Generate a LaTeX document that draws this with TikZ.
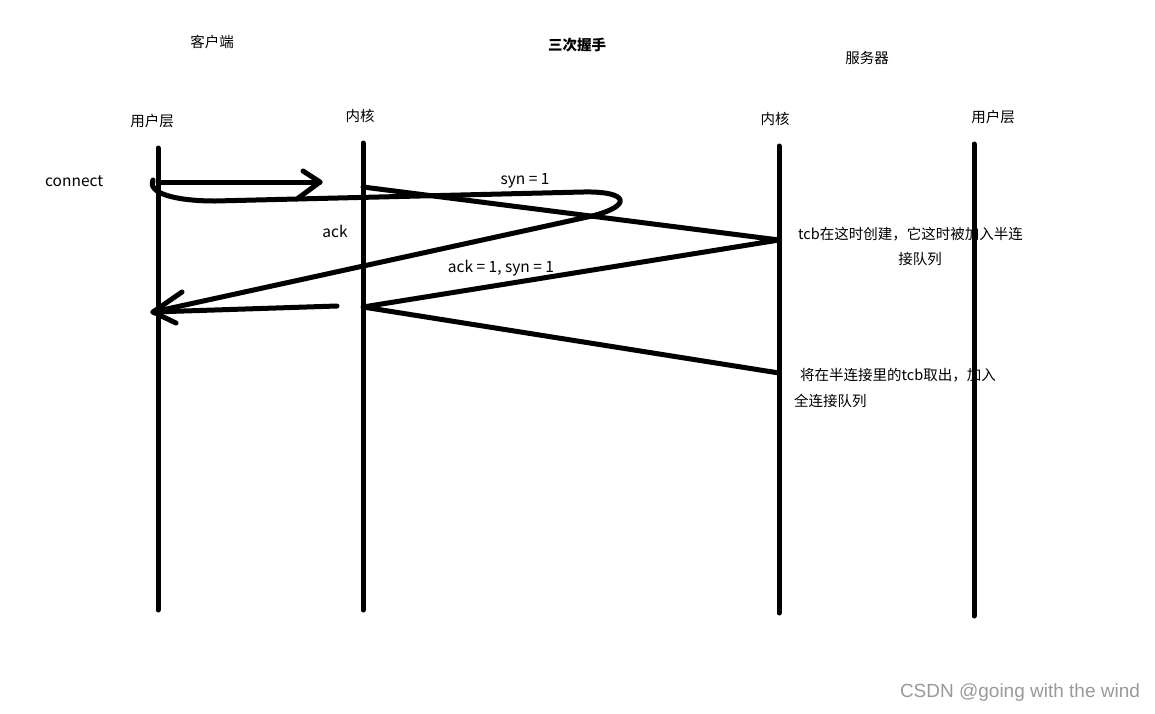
\documentclass[tikz,border=0pt]{standalone}
\usepackage{fontspec}
\setmainfont{Noto Sans CJK SC}
\newfontfamily\wmfont{Liberation Sans}
\begin{document}
\begin{tikzpicture}[x=1pt,y=-1pt,
  lbl/.style={inner sep=0pt, font=\fontsize{14.5}{17}\selectfont},
  lat/.style={inner sep=0pt, font=\fontsize{15.5}{18}\selectfont},
  lblw/.style={lbl, anchor=west},
  wm/.style={inner sep=0pt, font=\wmfont\fontsize{19}{22}\selectfont, text=black!40},
  stroke/.style={line width=5pt, line cap=round, line join=round}]
\useasboundingbox (0,0) rectangle (1155,713);
% labels
\node[lbl] (client) at (212,42) {客户端};
\node[lbl, font=\fontsize{14.5}{17}\selectfont\bfseries] (title) at (577,45) {三次握手};
\node[lbl] (server) at (867,58) {服务器};
\node[lbl] (cuser) at (152,121) {用户层};
\node[lbl] (ckern) at (360,116) {内核};
\node[lbl] (skern) at (775,119) {内核};
\node[lbl] (suser) at (993,117) {用户层};
\node[lat, anchor=west] (connect) at (45,181) {connect};
\node[lat] (ack) at (335,231) {ack};
\node[lat] (syn) at (525,181) {syn = 1};
\node[lat] (acksyn) at (501,268) {ack = 1, syn = 1};
\node[lblw] (note1) at (798,234) {tcb在这时创建，它这时被加入半连};
\node[lbl] (note1b) at (920,259) {接队列};
\node[lblw] (note2) at (800,375) {将在半连接里的tcb取出，加入};
\node[lblw] (note2b) at (794,401) {全连接队列};
\node[wm] (mark) at (1020,693) {CSDN @going with the wind};
% coordinates
\coordinate (c1t) at (158,148); \coordinate (c1b) at (158,610);
\coordinate (c2t) at (363,143); \coordinate (c2b) at (363,610);
\coordinate (s1t) at (779,146); \coordinate (s1b) at (779,613);
\coordinate (s2t) at (974,144); \coordinate (s2b) at (974,616);
\coordinate (a1s) at (158,182); \coordinate (a1e) at (320,182);
\coordinate (a1u) at (303,171); \coordinate (a1l) at (297,199);
\coordinate (p1) at (363,187); \coordinate (p2) at (779,240);
\coordinate (p3) at (363,307); \coordinate (p4) at (779,373);
\coordinate (b1s) at (337,306); \coordinate (b1e) at (153,312);
\coordinate (b1u) at (182,292); \coordinate (b1l) at (176,323);
\coordinate (l0) at (153,180); \coordinate (l1) at (215,201);
\coordinate (l2) at (583,192); \coordinate (l3) at (592,216);
% lifelines
\draw[stroke] (c1t) -- (c1b);
\draw[stroke] (c2t) -- (c2b);
\draw[stroke] (s1t) -- (s1b);
\draw[stroke] (s2t) -- (s2b);
% connect arrow
\draw[stroke] (a1s) -- (a1e);
\draw[stroke] (a1u) -- (a1e) -- (a1l);
% handshake messages
\draw[stroke] (p1) -- (p2) -- (p3) -- (p4);
% loop
\draw[stroke] (l0) .. controls (147,193) and (175,201) .. (l1) -- (l2)
  .. controls (630,191) and (632,206) .. (l3) -- (b1e);
% ack arrow
\draw[stroke] (b1s) -- (b1e);
\draw[stroke] (b1u) -- (b1e) -- (b1l);
\end{tikzpicture}
\end{document}
